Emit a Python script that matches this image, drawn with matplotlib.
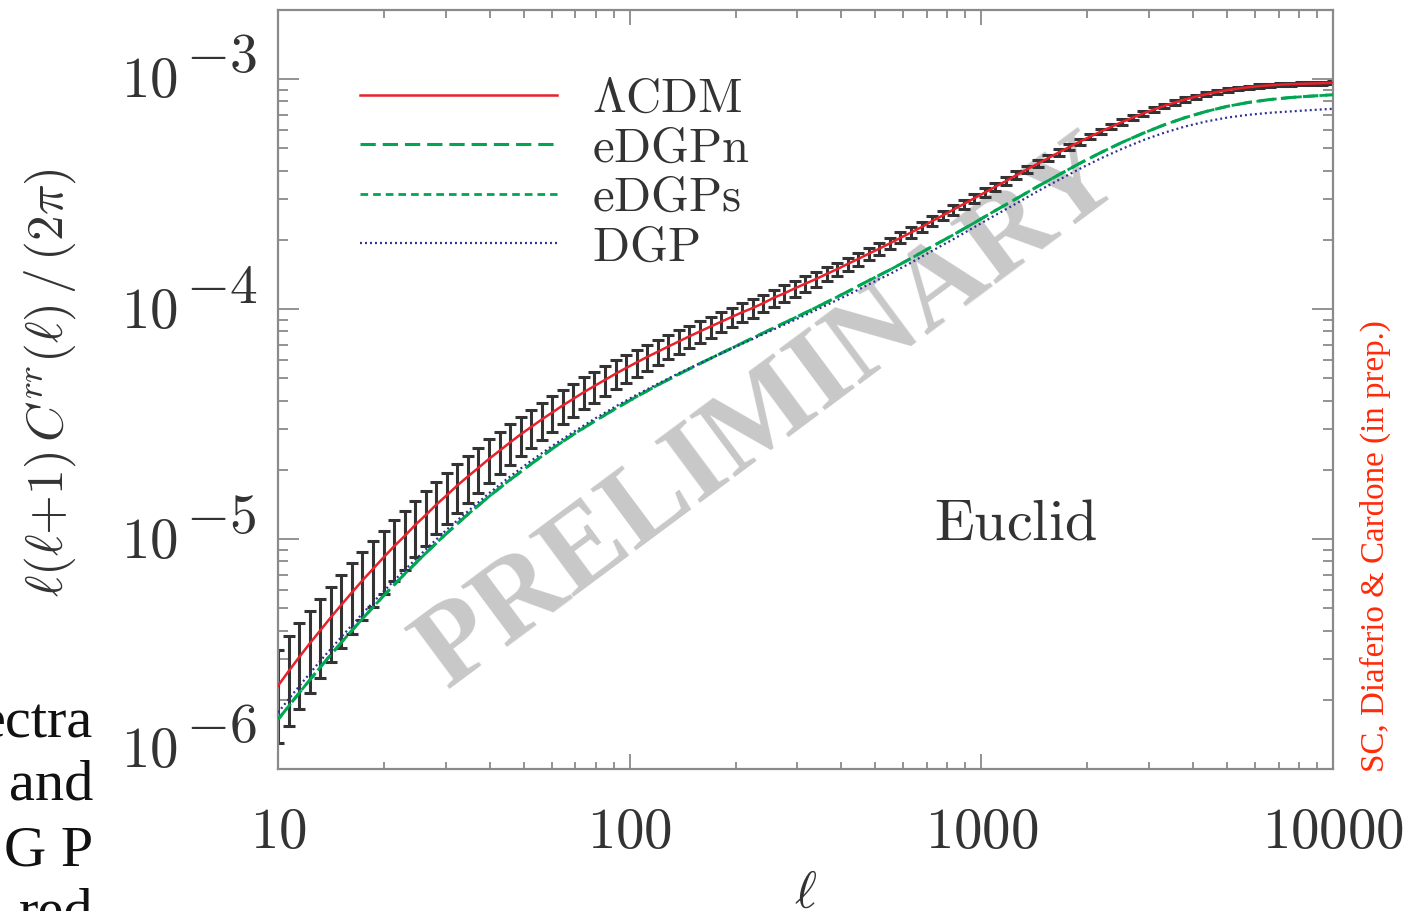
import numpy as np
import matplotlib
matplotlib.use('Agg')
import matplotlib.pyplot as plt
from matplotlib.ticker import NullFormatter, LogLocator

plt.rcParams['mathtext.fontset'] = 'cm'
plt.rcParams['lines.scale_dashes'] = False

# ---------------- data ----------------
# multipole bins: 101 log-spaced bins from l=10 to l=10000 (0.03 dex steps)
ell_bins = 10 ** (1 + 0.03 * np.arange(101))
# model curves sampled every 0.06 dex
ell_model = 10 ** (1 + 0.06 * np.arange(51))

# LCDM: l(l+1)C(l)/(2pi), units of 1e-6, at every bin
lcdm_1e6 = [2.3, 2.66, 3.06, 3.51, 4, 4.56, 5.17, 5.85, 6.6, 7.41,
            8.31, 9.29, 10.3, 11.5, 12.7, 14.1, 15.5, 17.1, 18.7, 20.4,
            22.3, 24.2, 26.3, 28.5, 30.7, 33.1, 35.5, 38.1, 40.7, 43.5,
            46.3, 49.2, 52.3, 55.4, 58.6, 61.9, 65.2, 68.7, 72.3, 76.1,
            79.9, 83.9, 88, 92.3, 96.8, 101, 106, 112, 117, 123,
            129, 135, 142, 149, 157, 165, 174, 183, 193, 204,
            215, 227, 241, 255, 270, 286, 303, 321, 340, 360,
            382, 405, 428, 453, 479, 506, 534, 562, 591, 620,
            650, 679, 708, 736, 764, 790, 815, 838, 859, 878,
            895, 909, 921, 931, 939, 945, 950, 953, 956, 959, 963]
# relative error of the LCDM bandpowers
rel_err = [0.435, 0.419, 0.404, 0.39, 0.376, 0.363, 0.351, 0.339, 0.327, 0.317,
           0.306, 0.296, 0.286, 0.276, 0.267, 0.258, 0.249, 0.241, 0.233, 0.225,
           0.218, 0.21, 0.203, 0.196, 0.19, 0.183, 0.177, 0.17, 0.165, 0.159,
           0.153, 0.148, 0.143, 0.138, 0.133, 0.129, 0.124, 0.12, 0.116, 0.112,
           0.108, 0.104, 0.101, 0.0974, 0.0941, 0.0909, 0.0878, 0.0848, 0.0819, 0.0791,
           0.0764, 0.0738, 0.0713, 0.0688, 0.0665, 0.0641, 0.0619, 0.0597, 0.0575, 0.0555,
           0.0535, 0.0516, 0.0498, 0.048, 0.0463, 0.0447, 0.0431, 0.0416, 0.0401, 0.0387,
           0.0373, 0.036, 0.0347, 0.0334, 0.0323, 0.0311, 0.03, 0.0289, 0.0279, 0.027,
           0.026, 0.0251, 0.0243, 0.0235, 0.0227, 0.0219, 0.0211, 0.0204, 0.0197, 0.019,
           0.0184, 0.0178, 0.0172, 0.0166, 0.016, 0.0155, 0.0149, 0.0144, 0.0139, 0.0135, 0.013]
# eDGPn model, units of 1e-6
edgpn_1e6 = [1.64, 2.14, 2.77, 3.55, 4.5, 5.66, 7.04, 8.67, 10.6, 12.8,
             15.3, 18.1, 21.2, 24.7, 28.5, 32.5, 36.9, 41.6, 46.7, 52.1,
             57.9, 64.2, 71.1, 78.7, 87.1, 96.4, 107, 119, 133, 148,
             166, 187, 210, 237, 268, 302, 341, 383, 430, 479,
             530, 581, 632, 680, 723, 761, 791, 814, 831, 843, 854]
# eDGPs model (indistinguishable from eDGPn at this scale)
edgps_1e6 = [1.64, 2.14, 2.77, 3.55, 4.5, 5.66, 7.04, 8.67, 10.6, 12.8,
             15.3, 18.1, 21.2, 24.7, 28.5, 32.5, 36.9, 41.6, 46.7, 52.1,
             57.9, 64.2, 71.1, 78.7, 87.1, 96.4, 107, 119, 133, 148,
             166, 187, 210, 237, 268, 302, 341, 383, 430, 479,
             530, 581, 632, 680, 723, 761, 791, 814, 831, 843, 854]
# DGP model, units of 1e-6
dgp_1e6 = [1.76, 2.29, 2.95, 3.75, 4.74, 5.92, 7.33, 9, 11, 13.2,
           15.8, 18.7, 21.9, 25.4, 29.2, 33.3, 37.7, 42.4, 47.3, 52.6,
           58.1, 64.1, 70.6, 77.7, 85.5, 94.2, 104, 115, 128, 142,
           159, 179, 201, 227, 256, 288, 325, 364, 407, 452,
           497, 542, 584, 622, 654, 680, 699, 713, 723, 733, 742]

series_labels = [r'$\Lambda\mathrm{CDM}$', r'$\mathrm{eDGPn}$', r'$\mathrm{eDGPs}$', r'$\mathrm{DGP}$']
xtick_vals = [10, 100, 1000, 10000]
xtick_text = [r'$10$', r'$100$', r'$1000$', r'$10000$']
ytick_vals = [1e-3, 1e-4, 1e-5, 1e-6]
ytick_exp = ['3', '4', '5', '6']

lcdm = np.array(lcdm_1e6) * 1e-6
edgpn = np.array(edgpn_1e6) * 1e-6
edgps = np.array(edgps_1e6) * 1e-6
dgp = np.array(dgp_1e6) * 1e-6
err = lcdm * np.array(rel_err)

# ---------------- figure ----------------
W, H = 1422, 911
fig = plt.figure(figsize=(W / 100, H / 100), dpi=100)
ax = fig.add_axes([278 / W, 1 - 769 / H, (1333 - 278) / W, (769 - 10) / H])
ax.set_xscale('log')
ax.set_yscale('log')
ax.set_xlim(10, 10000)
ax.set_ylim(1e-6, 10 ** -2.7)

ax.errorbar(ell_bins, lcdm, yerr=err, fmt='none', ecolor='#333333',
            elinewidth=2.2, capsize=4.3, capthick=2.2, zorder=2)
l2, = ax.plot(ell_model, edgps, color='#00a651', lw=2.0, ls=(0, (5.5, 3.6)), zorder=3)
l1, = ax.plot(ell_model, edgpn, color='#00a651', lw=2.2, ls=(0, (11, 5)), zorder=3)
l3, = ax.plot(ell_model, dgp, color='#2e2e96', lw=1.6, ls=(0, (1.4, 2.2)), zorder=3)
l0, = ax.plot(ell_bins, lcdm, color='#e8212b', lw=1.8, zorder=4)

ax.legend([l0, l1, l2, l3], series_labels,
          loc='upper left', bbox_to_anchor=((360 - 278) / 1055, (769 - 74) / 759),
          frameon=False, fontsize=35, handlelength=4.05, handletextpad=0.72,
          labelspacing=0.03, borderaxespad=0, borderpad=0, labelcolor='#333333')

for sp in ax.spines.values():
    sp.set_color('#8a8a8a')
    sp.set_linewidth(1.6)
ax.tick_params(which='both', direction='in', top=True, right=True, color='#8a8a8a', width=1.3)
ax.tick_params(axis='y', which='major', length=15)
ax.tick_params(axis='y', which='minor', length=7.5)
ax.tick_params(axis='x', which='major', length=10.8, pad=26)
ax.tick_params(axis='x', which='minor', length=5.4)
ax.set_xticks(xtick_vals, labels=xtick_text)
ax.xaxis.set_minor_formatter(NullFormatter())
for t in ax.get_xticklabels():
    t.set_fontsize(41)
    t.set_color('#333333')
ax.yaxis.set_major_locator(LogLocator(base=10, numticks=10))
ax.yaxis.set_minor_locator(LogLocator(base=10, subs=np.arange(2, 10), numticks=10))
ax.yaxis.set_major_formatter(NullFormatter())
ax.yaxis.set_minor_formatter(NullFormatter())

# y tick labels drawn as "10" with a full-size raised exponent, as in the original
ybase_dy = [-3, -4, -4, 17]
for v, e, d in zip(ytick_vals, ytick_exp, ybase_dy):
    ax.annotate(r'$10$', xy=(0, v), xycoords=('axes fraction', 'data'), xytext=(-100, d),
                textcoords='offset pixels', ha='right', va='center', fontsize=41,
                color='#333333', annotation_clip=False)
    ax.annotate(r'$-' + e + '$', xy=(0, v), xycoords=('axes fraction', 'data'),
                xytext=(-92, d + 25), textcoords='offset pixels', ha='left', va='center',
                fontsize=40, color='#333333', annotation_clip=False)

fig.text(50 / W, 1 - 383 / H, r'$\ell(\ell{+}1)\,C^{rr}(\ell)\,/\,(2\pi)$', rotation=90,
         ha='center', va='center', fontsize=37, color='#333333')
fig.text(805 / W, 1 - 893 / H, r'$\ell$', ha='center', va='center', fontsize=38, color='#333333')
fig.text(1016 / W, 1 - 523 / H, r'$\mathrm{Euclid}$', ha='center', va='center',
         fontsize=42, color='#333333')
ax.text(770 / W, 1 - 415 / H, 'PRELIMINARY', transform=fig.transFigure, rotation=36.6,
        rotation_mode='anchor', ha='center', va='center', fontsize=84, color='#c8c8c8',
        family='Liberation Serif', weight='bold', zorder=1, clip_on=False)
fig.text(1375 / W, 1 - 546 / H, 'SC, Diaferio & Cardone (in prep.)', rotation=90,
         ha='center', va='center', fontsize=23.8, color='#ff2a0a', family='Liberation Serif')
for s, yb in zip(['ectra', 'and', 'G P', 'red'], [737, 800, 865, 928]):
    fig.text(93 / W, 1 - yb / H, s, ha='right', va='baseline', fontsize=42, color='#111111',
             family='Liberation Serif')

fig.savefig('out.png', dpi=100)
